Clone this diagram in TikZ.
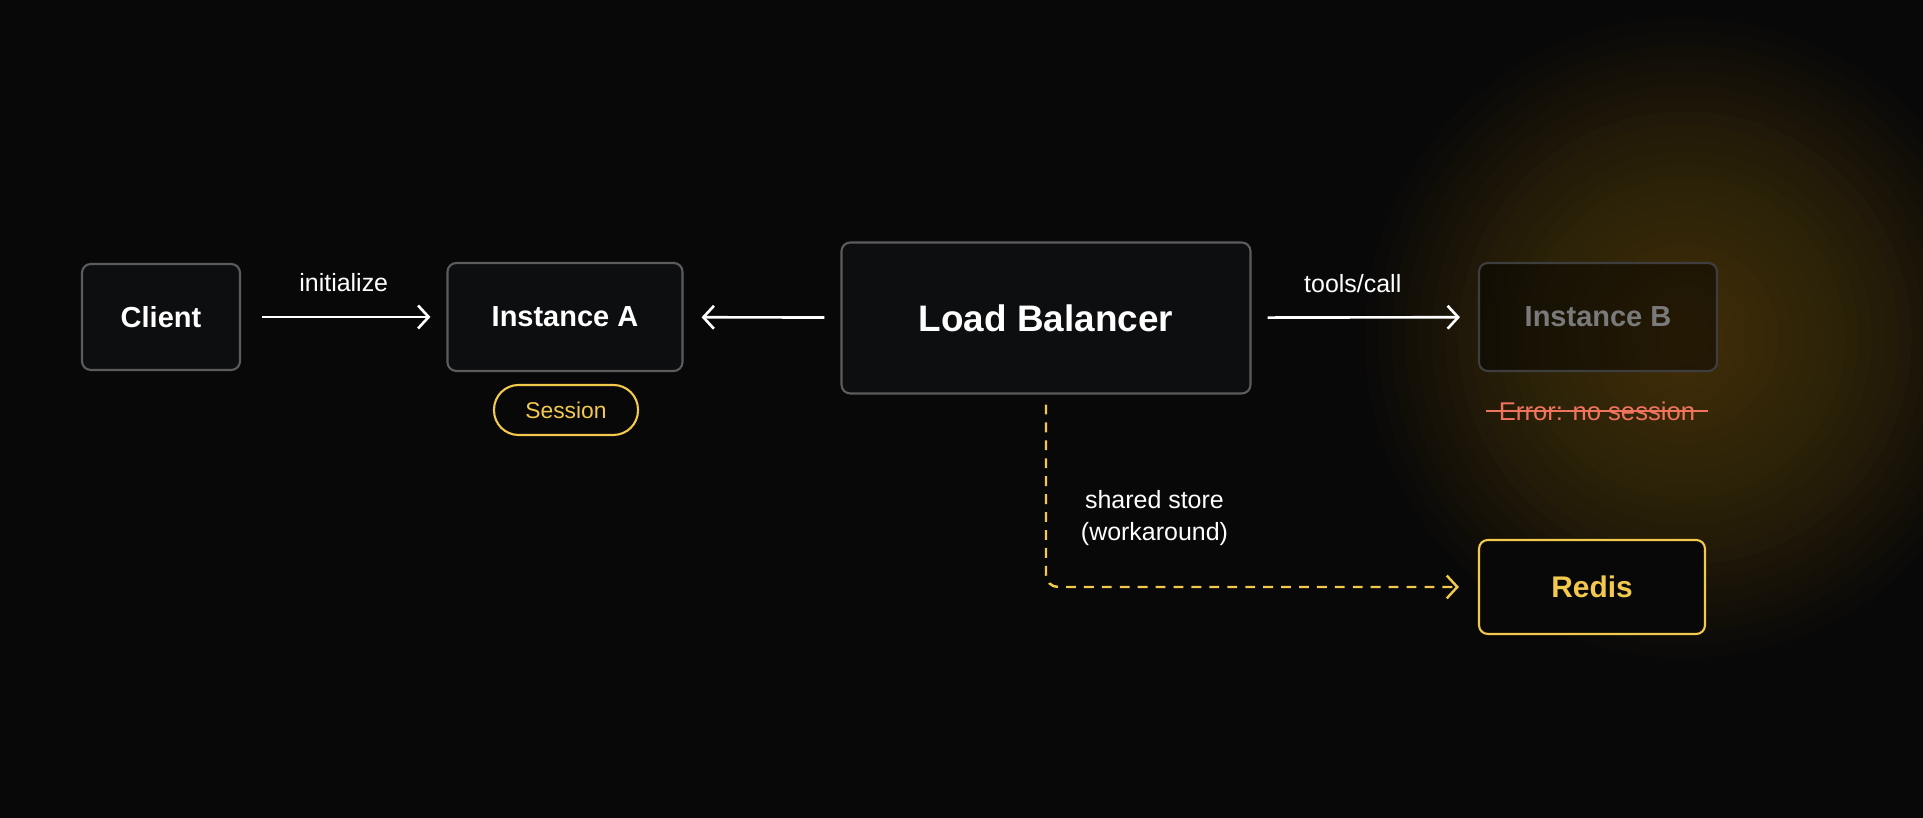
\documentclass[tikz,border=0pt]{standalone}
\usepackage{fontspec}
\setmainfont{Liberation Sans}
\usetikzlibrary{calc}
\usetikzlibrary{positioning}
\usetikzlibrary{arrows.meta}

\definecolor{bgdark}{HTML}{080808}
\definecolor{boxfill}{HTML}{0D0E10}
\definecolor{boxline}{HTML}{5C5C5E}
\definecolor{accent}{HTML}{F2C94C}
\definecolor{errred}{HTML}{F0735E}
\definecolor{dimtext}{HTML}{7A7A7A}
\definecolor{dimline}{HTML}{3E3E3E}
\definecolor{glowcol}{HTML}{E0A018}

\begin{document}
\begin{tikzpicture}[
    box/.style={rectangle, draw=boxline, fill=boxfill, line width=0.6pt, rounded corners=2.5pt,
        inner sep=0pt, text=white, font=\fontsize{8.25}{10}\selectfont\bfseries},
    pill/.style={rectangle, draw=accent, fill=bgdark, line width=0.6pt, rounded corners=7pt,
        inner sep=0pt, text=accent, font=\fontsize{6.5}{8}\selectfont},
    lbl/.style={text=white, font=\fontsize{7.1}{9.1}\selectfont},
    arr/.style={-{Straight Barb[length=3pt,width=6.5pt]}, white, line width=0.75pt},
    dasharr/.style={-{Straight Barb[length=3pt,width=6.5pt]}, accent, line width=0.7pt,
        dash pattern=on 2.8pt off 2.3pt}
]
            % Background and glow
            \fill[bgdark] (0,0) rectangle (19.23,8.18);
            \useasboundingbox (0,0) rectangle (19.23,8.18);
            \begin{scope}
                \clip (0,0) rectangle (19.23,8.18);
                \foreach \i in {1,...,24}
                    \fill[glowcol, opacity=0.016] (16.85,4.8) circle ({3.2*\i/24});
            \end{scope}

            % Top row
            \node[box, minimum width=1.58cm, minimum height=1.06cm] (client) at (1.61,5.01) {Client};
            \node[box, minimum width=2.35cm, minimum height=1.08cm] (instA) at (5.65,5.01) {Instance A};
            \node[box, minimum width=4.09cm, minimum height=1.51cm, font=\fontsize{10.5}{12.6}\selectfont\bfseries] (lb) at (10.46,5.00) {Load Balancer};
            \node[box, draw=dimline, fill=black, fill opacity=0.45, text opacity=1, text=dimtext, minimum width=2.38cm, minimum height=1.08cm] (instB) at (15.98,5.01) {Instance B};

            % Session and error
            \node[pill, minimum width=1.44cm, minimum height=0.50cm] (session) at (5.66,4.08) {Session};
            \node[text=errred, font=\fontsize{7.3}{9}\selectfont] (err) at (15.97,4.07) {Error: no session};
            \draw[errred, line width=0.6pt] (err.west) -- (err.east);

            % Shared store
            \node[box, draw=accent, fill=bgdark, text=accent, minimum width=2.26cm, minimum height=0.94cm, font=\fontsize{8.5}{10}\selectfont\bfseries] (redis) at (15.92,2.31) {Redis};

            % Connectors
            \draw[arr, shorten <=0.21cm, shorten >=0.16cm] (client) -- node[lbl, above=0.12cm] {initialize} (instA);
            \draw[arr, shorten <=0.16cm, shorten >=0.18cm] (lb) -- (instA);
            \draw[arr, shorten <=0.16cm, shorten >=0.18cm] (lb) -- node[lbl, above=0.12cm, xshift=-0.12cm] {tools/call} (instB);
            \draw[dasharr, rounded corners=0.12cm, shorten <=0.1cm, shorten >=0.19cm] (lb.south) |- node[lbl, pos=0.32, right=0.22cm, align=center] {shared store\\(workaround)} (redis.west);
        \end{tikzpicture}
\end{document}
